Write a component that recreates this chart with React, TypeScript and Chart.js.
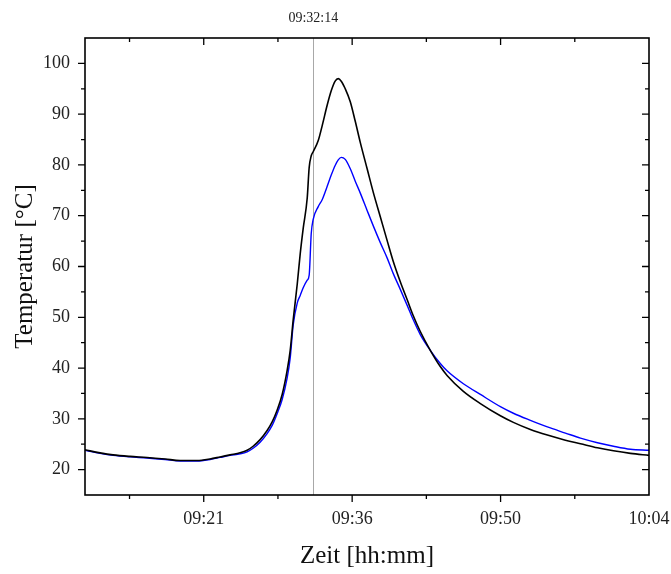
import React, { useEffect, useRef } from "react";
import { Chart, registerables } from "chart.js";

Chart.register(...registerables);

// Time of day in minutes after midnight (e.g. 561.6 = 09:21:36)
const timeMinutes = [
  550.08, 551.54, 552.8, 554.45, 556.1, 557.85, 559.31, 560.96, 562.22, 563.19,
  564.16, 565.13, 565.81, 566.39, 567.07, 567.75, 568.24, 568.72, 569.21, 569.69,
  569.99, 570.28, 570.67, 570.96, 571.25, 571.64, 571.83, 572.03, 572.22, 572.71,
  573.1, 573.58, 573.97, 574.35, 574.65, 574.94, 575.33, 575.81, 576.3, 576.78,
  577.46, 578.05, 578.73, 579.41, 579.99, 580.67, 581.35, 581.93, 582.61, 583.58,
  584.55, 585.23, 586.79, 588.44, 590.38, 591.64, 593.29, 594.94, 596.69, 598.15,
  599.8, 601.35, 603.0, 604.8,
];

const tempBlack = [
  23.9, 23.3, 22.9, 22.6, 22.4, 22.1, 21.8, 21.8, 22.1, 22.5,
  22.9, 23.3, 23.8, 24.6, 25.9, 27.7, 29.4, 31.7, 34.8, 39.5,
  43.5, 49.5, 56.5, 62.5, 67.5, 73.5, 79.5, 81.8, 82.6, 84.8,
  87.8, 91.8, 94.6, 96.5, 97.0, 96.5, 95.0, 92.5, 88.6, 84.5,
  79.2, 74.6, 69.8, 65.0, 61.0, 57.0, 53.4, 50.3, 47.2, 43.5,
  40.3, 38.5, 35.4, 33.0, 30.6, 29.3, 27.9, 26.8, 25.8, 25.1,
  24.3, 23.7, 23.2, 22.8,
];

const tempBlue = [
  23.8, 23.2, 22.8, 22.5, 22.3, 22.0, 21.7, 21.7, 22.0, 22.4,
  22.8, 23.1, 23.5, 24.2, 25.4, 27.1, 28.7, 31.0, 33.8, 38.0,
  42.0, 48.5, 52.8, 54.3, 55.8, 57.3, 58.3, 66.5, 69.3, 71.8,
  73.2, 75.8, 78.0, 79.9, 81.0, 81.5, 81.1, 79.3, 76.8, 74.5,
  71.0, 68.0, 64.7, 61.6, 58.6, 55.5, 52.3, 49.5, 46.6, 43.5,
  40.9, 39.4, 36.9, 34.8, 32.4, 31.1, 29.7, 28.4, 27.2, 26.2,
  25.3, 24.6, 24.0, 23.8,
];

const xTickValues = [561.6, 576, 590.4, 604.8];
const xTickLabels = ["09:21", "09:36", "09:50", "10:04"];
const xMinorValues = [554.4, 568.8, 583.2, 597.6];
const yTickValues = [20, 30, 40, 50, 60, 70, 80, 90, 100];
const yMinorValues = [25, 35, 45, 55, 65, 75, 85, 95];
const markerTime = 572.2333;
const markerLabel = "09:32:14";
const xTitle = "Zeit [hh:mm]";
const yTitle = "Temperatur [°C]";

const X_MIN = 550.08;
const X_MAX = 604.8;
const Y_MIN = 15;
const Y_MAX = 105;

const FONT = "'Liberation Serif', 'DejaVu Serif', serif";

const framePlugin = {
  id: "frameAndMarker",
  beforeDatasetsDraw(chart: any) {
    const { ctx, chartArea, scales } = chart;
    const x = Math.round(scales.x.getPixelForValue(markerTime)) + 0.5;
    ctx.save();
    ctx.strokeStyle = "#a8a8a8";
    ctx.lineWidth = 1;
    ctx.beginPath();
    ctx.moveTo(x, chartArea.top);
    ctx.lineTo(x, chartArea.bottom);
    ctx.stroke();
    ctx.restore();
  },
  afterDraw(chart: any) {
    const { ctx, chartArea, scales } = chart;
    const { left, right, top, bottom } = chartArea;
    ctx.save();
    ctx.strokeStyle = "#000";
    ctx.lineWidth = 1.6;
    ctx.strokeRect(left, top, right - left, bottom - top);

    ctx.lineWidth = 1.3;
    const major = 7;
    const minor = 4;
    ctx.beginPath();
    const xt = (v: number, len: number) => {
      const px = scales.x.getPixelForValue(v);
      if (px <= left + 1 || px >= right - 1) return;
      ctx.moveTo(px, bottom);
      ctx.lineTo(px, bottom + len);
      ctx.moveTo(px, top);
      ctx.lineTo(px, top + len);
    };
    xTickValues.forEach((v) => xt(v, major));
    xMinorValues.forEach((v) => xt(v, minor));
    const yt = (v: number, len: number) => {
      const py = scales.y.getPixelForValue(v);
      if (py <= top + 1 || py >= bottom - 1) return;
      ctx.moveTo(left, py);
      ctx.lineTo(left - len, py);
      ctx.moveTo(right, py);
      ctx.lineTo(right - len, py);
    };
    yTickValues.forEach((v) => yt(v, major));
    yMinorValues.forEach((v) => yt(v, minor));
    ctx.stroke();

    // marker label
    const mx = scales.x.getPixelForValue(markerTime);
    ctx.fillStyle = "#222";
    ctx.font = `14px ${FONT}`;
    ctx.textAlign = "center";
    ctx.textBaseline = "middle";
    ctx.fillText(markerLabel, mx, 18);
    ctx.restore();
  },
};

export default function App() {
  const canvasRef = useRef<HTMLCanvasElement | null>(null);

  useEffect(() => {
    if (!canvasRef.current) return;
    const points = (vals: number[]) =>
      timeMinutes.map((t, i) => ({ x: t, y: vals[i] }));

    const chart = new Chart(canvasRef.current, {
      type: "line",
      data: {
        datasets: [
          {
            label: "schwarz",
            data: points(tempBlack),
            borderColor: "#000000",
            borderWidth: 1.6,
            pointRadius: 0,
            cubicInterpolationMode: "monotone",
            fill: false,
          },
          {
            label: "blau",
            data: points(tempBlue),
            borderColor: "#0000ff",
            borderWidth: 1.4,
            pointRadius: 0,
            cubicInterpolationMode: "monotone",
            fill: false,
          },
        ],
      },
      options: {
        responsive: false,
        animation: false,
        layout: { padding: { top: 38, right: 22, bottom: 0, left: 0 } },
        plugins: {
          legend: { display: false },
          tooltip: { enabled: false },
        },
        scales: {
          x: {
            type: "linear",
            min: X_MIN,
            max: X_MAX,
            grid: { display: false, drawTicks: false },
            border: { display: false },
            afterBuildTicks: (s: any) => {
              s.ticks = xTickValues.map((v) => ({ value: v }));
            },
            afterFit: (s: any) => {
              s.height = 79;
              s.paddingLeft = 0;
              s.paddingRight = 0;
            },
            ticks: {
              autoSkip: false,
              maxRotation: 0,
              padding: 13,
              color: "#222",
              font: { family: FONT, size: 18 },
              callback: (v: any) => {
                const i = xTickValues.findIndex((t) => Math.abs(t - v) < 1e-6);
                return i >= 0 ? xTickLabels[i] : "";
              },
            },
            title: {
              display: true,
              text: xTitle,
              color: "#111",
              font: { family: FONT, size: 25 },
              padding: { top: 0, bottom: 3 },
            },
          },
          y: {
            type: "linear",
            min: Y_MIN,
            max: Y_MAX,
            grid: { display: false, drawTicks: false },
            border: { display: false },
            afterBuildTicks: (s: any) => {
              s.ticks = yTickValues.map((v) => ({ value: v }));
            },
            afterFit: (s: any) => {
              s.width = 85;
              s.paddingTop = 0;
              s.paddingBottom = 0;
            },
            ticks: {
              autoSkip: false,
              padding: 15,
              color: "#222",
              font: { family: FONT, size: 18 },
            },
            title: {
              display: true,
              text: yTitle,
              color: "#111",
              font: { family: FONT, size: 25 },
              padding: { top: 10, bottom: 0 },
            },
          },
        },
      },
      plugins: [framePlugin],
    } as any);

    return () => chart.destroy();
  }, []);

  return (
    <div style={{ position: "absolute", left: 0, top: 0, width: 671, height: 574, background: "#fff" }}>
      <canvas ref={canvasRef} width={671} height={574} />
    </div>
  );
}
